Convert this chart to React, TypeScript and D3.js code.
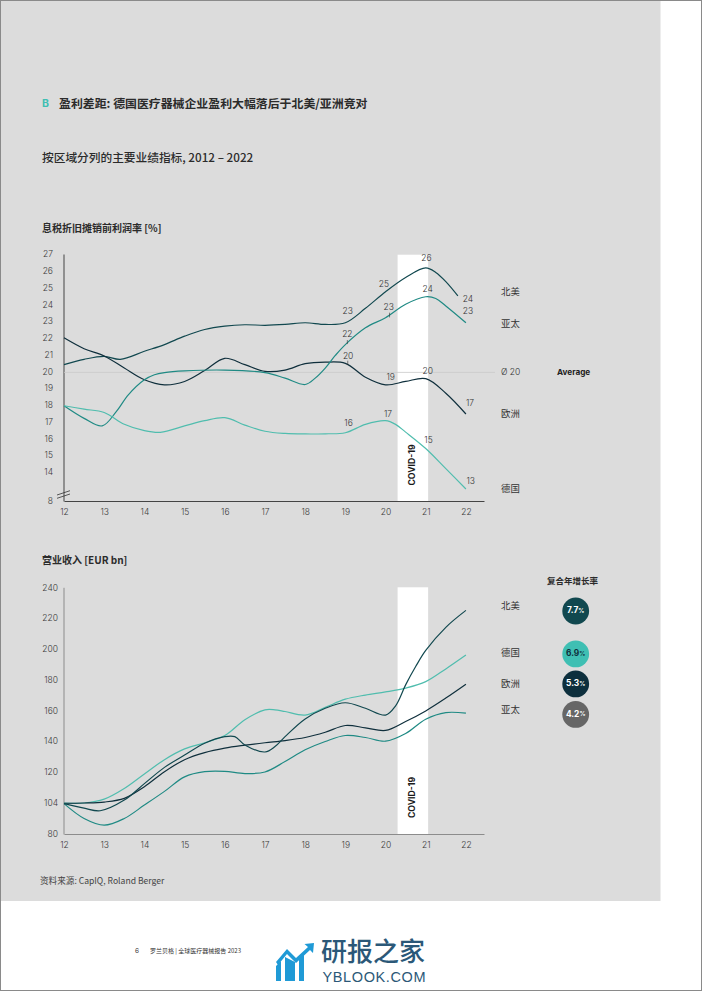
import React, { useEffect, useRef } from "react";
import * as d3 from "d3";

type Pt = [number, number];

const FONT = "Inter, 'Noto Sans CJK SC', sans-serif";
const CJK = "'Noto Sans CJK SC', Inter, sans-serif";

const COL_NA = "#11484f";
const COL_APAC = "#1f8a84";
const COL_EU = "#0f2f3c";
const COL_DE = "#50bdae";

const years = [12, 13, 14, 15, 16, 17, 18, 19, 20, 21, 22];
const marginTicks = [8, 14, 15, 16, 17, 18, 19, 20, 21, 22, 23, 24, 25, 26, 27];
const revenueTicks = [80, 104, 120, 140, 160, 180, 200, 220, 240];

// EBITDA margin
const marginNA: Pt[] = [[12, 20.4], [12.5, 20.72], [13, 20.9], [13.4, 20.72], [14, 21.2], [14.5, 21.6], [15, 22.1], [15.5, 22.5], [16, 22.7], [16.5, 22.78], [17, 22.75], [17.5, 22.8], [18, 22.9], [18.5, 22.8], [19, 22.9], [19.5, 23.76], [20, 24.75], [20.5, 25.6], [21, 26.17], [21.25, 25.9], [21.5, 25.35], [21.8, 24.5]];
const marginAPAC: Pt[] = [[12, 17.95], [12.5, 17.2], [12.95, 16.75], [13.3, 17.6], [13.6, 18.6], [14, 19.5], [14.25, 19.8], [14.5, 19.93], [15, 20.03], [16, 20.08], [17, 19.93], [17.5, 19.6], [18, 19.22], [18.25, 19.6], [18.5, 20.2], [18.75, 20.95], [19, 21.6], [19.5, 22.6], [20, 23.2], [20.5, 24], [21, 24.45], [21.25, 24.35], [21.5, 23.9], [22, 22.9]];
const marginEU: Pt[] = [[12, 22], [12.5, 21.35], [13, 20.92], [13.5, 20.2], [14, 19.5], [14.5, 19.2], [15, 19.4], [15.5, 20.05], [16, 20.78], [16.5, 20.4], [17, 20], [17.5, 20.08], [18, 20.46], [18.5, 20.55], [19, 20.48], [19.5, 19.65], [20, 19.2], [20.5, 19.4], [21, 19.57], [21.5, 18.7], [22, 17.46]];
const marginDE: Pt[] = [[12, 17.95], [12.5, 17.75], [13, 17.55], [13.5, 16.85], [14, 16.47], [14.4, 16.37], [15, 16.75], [15.5, 17.06], [16, 17.24], [16.5, 16.8], [17, 16.43], [17.5, 16.3], [18, 16.27], [18.5, 16.28], [19, 16.34], [19.5, 16.84], [20, 17.06], [20.25, 16.84], [20.5, 16.38], [21, 15.4], [21.5, 14.2], [22, 12.93]];

// revenue
const revenueNA: Pt[] = [[12, 103.5], [12.5, 100], [12.9, 98], [13.5, 105.5], [14, 114], [14.5, 123], [15, 131], [15.5, 138.7], [16, 143], [16.25, 143], [16.5, 137.6], [17, 133], [17.25, 136.5], [17.5, 143], [18, 154.5], [18.5, 161.4], [19, 165], [19.5, 161.4], [20, 157], [20.25, 163], [20.5, 176.6], [20.75, 188.5], [21, 199], [21.5, 214], [22, 225]];
const revenueDE: Pt[] = [[12, 104], [12.5, 104], [13, 106], [13.5, 111.5], [14, 119], [14.5, 128], [15, 135], [15.5, 139], [16, 143.7], [16.5, 154], [17, 160.4], [17.25, 160.4], [17.5, 159.3], [18, 157], [18.5, 162], [19, 167.3], [19.5, 170], [20, 172], [20.5, 174.5], [21, 178.7], [21.5, 187], [22, 196]];
const revenueEU: Pt[] = [[12, 103.8], [12.5, 104], [13, 104.5], [13.5, 106.4], [14, 112.4], [14.5, 120.2], [15, 128], [15.5, 132.6], [16, 135.5], [16.5, 137.4], [17, 139], [17.5, 140.4], [18, 142.4], [18.5, 145.8], [19, 150.2], [19.5, 148.7], [20, 147], [20.5, 152.8], [21, 159.7], [21.5, 168], [22, 177]];
const revenueAPAC: Pt[] = [[12, 103.5], [12.5, 92], [13, 86.8], [13.5, 92], [14, 102.4], [14.5, 110], [15, 117.5], [15.5, 120.2], [16, 120.4], [16.5, 119.2], [17, 120], [17.5, 126.8], [18, 134.4], [18.5, 139.8], [19, 143.7], [19.5, 142.4], [20, 140], [20.5, 145], [21, 154.3], [21.5, 158.6], [22, 158.2]];

// value labels: year, value-axis height, text
const marginLabels: [number, number, string][] = [
  [21.02, 26.7, "26"], [19.96, 25.15, "25"], [21.05, 24.9, "24"], [22.05, 24.3, "24"],
  [19.06, 23.54, "23"], [20.08, 23.78, "23"], [22.05, 23.54, "23"], [19.05, 22.17, "22"],
  [19.07, 20.9, "20"], [20.13, 19.6, "19"], [21.05, 19.96, "20"], [22.1, 18.05, "17"],
  [20.06, 17.4, "17"], [19.08, 16.9, "16"], [21.07, 15.85, "15"], [22.12, 13.45, "13"],
];
const marginLeaders: [number, number, number][] = [[19.05, 21.87, 21.63], [19.06, 20.64, 20.38], [20.1, 23.5, 23.22]];

const marginSideNames = ["北美", "亚太", "欧洲", "德国"];
const marginSideAt = [24.7, 22.8, 17.46, 12.8];
const revenueSideNames = ["北美", "德国", "欧洲", "亚太"];
const revenueSideAt = [227.3, 196.8, 176.8, 160];
const cagrTexts = ["7.7", "6.9", "5.3", "4.2"];
const cagrColors = [COL_NA, "#3fbfb3", "#0d2f3d", "#666666"];
const cagrInk = ["#ffffff", "#0f2f3c", "#ffffff", "#ffffff"];
const cagrAt = [224.6, 196.7, 177.2, 157.4];

const covidBand: [number, number] = [20.3, 21.06];

export default function App() {
  const ref = useRef<SVGSVGElement>(null);

  useEffect(() => {
    const svg = d3.select(ref.current);
    svg.selectAll("*").remove();

    // page
    svg.append("rect").attr("width", 702).attr("height", 991).attr("fill", "#fff");
    svg.append("rect").attr("width", 660.5).attr("height", 901).attr("fill", "#dcdcdc");
    svg.append("rect").attr("x", 0.5).attr("y", 0.5).attr("width", 701).attr("height", 990)
      .attr("fill", "none").attr("stroke", "#8a8a8a");

    const text = (x: number, y: number, s: string, size: number, weight = 400, fill = "#333", family = FONT) =>
      svg.append("text").attr("x", x).attr("y", y).attr("font-size", size).attr("font-weight", weight)
        .attr("fill", fill).attr("font-family", family).attr("dominant-baseline", "middle").text(s);

    text(42, 104.5, "B", 10.5, 700, "#3fbfb3");
    text(59, 105, "盈利差距: 德国医疗器械企业盈利大幅落后于北美/亚洲竞对", 11.9, 700, "#2b2b2b", CJK);
    text(42, 158.5, "按区域分列的主要业绩指标, 2012 – 2022", 11.7, 500, "#2b2b2b", CJK);
    text(42, 229, "息税折旧摊销前利润率 [%]", 10, 700, "#2b2b2b", CJK);
    text(42, 561, "营业收入 [EUR bn]", 10, 700, "#2b2b2b", CJK);
    text(40, 882, "资料来源: CapIQ, Roland Berger", 8.6, 400, "#444", CJK);
    text(135, 951, "6", 6.5, 400, "#333");
    text(150, 951.5, "罗兰贝格 | 全球医疗器械报告 2023", 6, 400, "#333", CJK);

    const x = d3.scaleLinear().domain([12, 22.45]).range([64, 484]);
    const yM = d3.scaleLinear().domain([8, 13, 27]).range([501, 488.8, 254]);
    const yR = d3.scaleLinear().domain([80, 104, 120, 240]).range([834, 803, 772, 587.3]);

    const drawChart = (
      y: d3.ScaleLinear<number, number>,
      ticks: number[],
      axisColor: string,
      labelEnd: number,
      series: [Pt[], string][],
      baseY: number,
      covidTop: number,
      covidY: number,
    ) => {
      const g = svg.append("g");
      g.append("rect")
        .attr("x", x(covidBand[0])).attr("width", x(covidBand[1]) - x(covidBand[0]))
        .attr("y", covidTop).attr("height", baseY - covidTop).attr("fill", "#fff");
      g.append("text").attr("transform", `translate(${x(20.68)},${covidY}) rotate(-90)`)
        .attr("text-anchor", "middle").attr("dominant-baseline", "middle")
        .attr("font-size", 8.6).attr("font-weight", 700).attr("font-family", FONT).attr("fill", "#1a1a1a")
        .text("COVID-19");

      const xAxis = g.append("g").attr("transform", `translate(0,${baseY})`)
        .call(d3.axisBottom(x).tickValues(years).tickSize(0).tickPadding(8).tickFormat((d) => String(d)) as any);
      const yAxis = g.append("g").attr("transform", "translate(63.5,0)")
        .call(d3.axisLeft(y).tickValues(ticks).tickSize(0).tickPadding(63.5 - labelEnd).tickFormat((d) => String(d)) as any);
      [xAxis, yAxis].forEach((a) => {
        a.select(".domain").attr("stroke", axisColor).attr("stroke-width", 1);
        a.selectAll("text").attr("font-size", 8.5).attr("font-family", FONT).attr("font-weight", 300).attr("fill", "#3a3a3a");
      });

      const line = d3.line<Pt>().x((d) => x(d[0])).y((d) => y(d[1])).curve(d3.curveCatmullRom.alpha(0.5));
      series.forEach(([data, color]) => {
        g.append("path").datum(data).attr("d", line).attr("fill", "none")
          .attr("stroke", color).attr("stroke-width", 1.2);
      });
      return g;
    };

    const top = drawChart(yM, marginTicks, "#444", 53,
      [[marginNA, COL_NA], [marginEU, COL_EU], [marginAPAC, COL_APAC], [marginDE, COL_DE]], 501, 254.7, 465);
    // average line sits under the series
    top.insert("line", ":scope > path").attr("x1", x(12)).attr("x2", 495).attr("y1", yM(20) + 1).attr("y2", yM(20) + 1)
      .attr("stroke", "#c9c9c9").attr("stroke-width", 0.8);
    top.append("g").selectAll("line").data(marginLeaders).join("line")
      .attr("x1", (d) => x(d[0])).attr("x2", (d) => x(d[0]))
      .attr("y1", (d) => yM(d[1])).attr("y2", (d) => yM(d[2]))
      .attr("stroke", "#333").attr("stroke-width", 0.6);
    top.append("g").selectAll("text").data(marginLabels).join("text")
      .attr("x", (d) => x(d[0])).attr("y", (d) => yM(d[1]))
      .attr("text-anchor", "middle").attr("dominant-baseline", "middle")
      .attr("font-size", 8.5).attr("font-weight", 300).attr("font-family", FONT).attr("fill", "#333")
      .text((d) => d[2]);
    // axis break
    top.append("path").attr("d", "M57,495L70,490.7M57,498.3L70,494").attr("stroke", "#333").attr("stroke-width", 0.8).attr("fill", "none");

    drawChart(yR, revenueTicks, "#8c8c8c", 58,
      [[revenueDE, COL_DE], [revenueEU, COL_EU], [revenueAPAC, COL_APAC], [revenueNA, COL_NA]], 834, 587.3, 797.5);

    marginSideNames.forEach((n, i) => text(501, yM(marginSideAt[i]), n, 9.4, 400, "#333", CJK));
    text(501, yM(20) + 1, "Ø 20", 8.5, 300, "#333");
    text(557, yM(20) + 1.5, "Average", 8.2, 700, "#222");

    revenueSideNames.forEach((n, i) => text(501, yR(revenueSideAt[i]), n, 9.4, 400, "#333", CJK));
    text(547, 582, "复合年增长率", 8.5, 700, "#2b2b2b", CJK);
    cagrTexts.forEach((t, i) => {
      const cy = yR(cagrAt[i]);
      svg.append("circle").attr("cx", 575.7).attr("cy", cy).attr("r", 13.4).attr("fill", cagrColors[i]);
      const el = svg.append("text").attr("x", 575.7).attr("y", cy).attr("text-anchor", "middle")
        .attr("dominant-baseline", "middle").attr("font-family", FONT).attr("font-size", 8.4)
        .attr("font-weight", 700).attr("fill", cagrInk[i]).text(t);
      el.append("tspan").attr("font-size", 6).text("%");
    });

    // watermark
    const logo = svg.append("g").attr("fill", "#1f9ad6");
    logo.append("path").attr("d", "M276,981V966L281,961V981ZM285,981V957L295,962V981ZM299,981V958L304,953V981Z");
    logo.append("path").attr("d", "M276,962L287,949L296,958L308,947L304.5,944L314,943L313,953L310,950L296,963L287,954L278,965Z");
    svg.append("text").attr("x", 321).attr("y", 961).attr("font-size", 26).attr("font-family", CJK)
      .attr("font-weight", 500).attr("fill", "#2b5878").text("研报之家");
    svg.append("text").attr("x", 322.5).attr("y", 981.5).attr("font-size", 14.5).attr("font-family", "'Liberation Sans', sans-serif")
      .attr("fill", "#2b5878").attr("textLength", 103).text("YBLOOK.COM");
  }, []);

  return <svg ref={ref} width={702} height={991} style={{ position: "absolute", left: 0, top: 0, display: "block" }} />;
}
